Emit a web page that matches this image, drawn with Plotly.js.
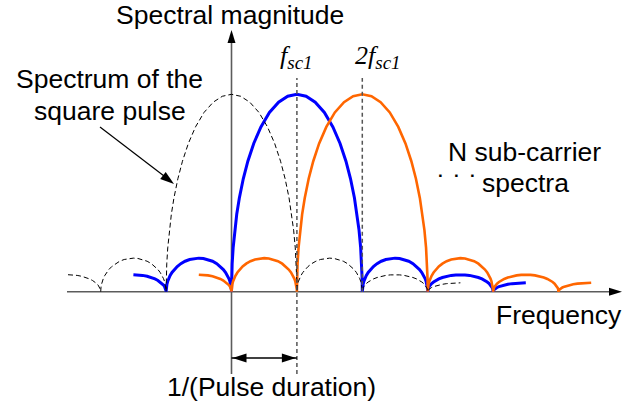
<!DOCTYPE html>
<html>
<head>
<meta charset="utf-8">
<script src="https://cdn.plot.ly/plotly-3.0.1.min.js"></script>
<style>html,body{margin:0;padding:0;background:#fff;}#chart{width:644px;height:408px;}</style>
</head>
<body>
<div id="chart"></div>
<script>
// ---- data (frequency in units of 1/(pulse duration), magnitude relative to main-lobe peak) ----
const carrierNames   = ['Square pulse', 'Sub-carrier 1', 'Sub-carrier 2'];
const carrierCenters = [0, 1, 2];                 // 0, f_sc1, 2 f_sc1
const lobeEdges      = [-3, -2, -1, 1, 2, 3, 4];  // lobe boundaries (zeros) relative to centre
const lobePeaks      = [0.086, 0.17, 1.0, 0.17, 0.086, 0.045]; // peak of each lobe
const drawFrom       = -2.5;                      // visible extent relative to centre
const drawTo         = 3.5;
// lobe outline: offset from lobe centre (-1 edge .. 0 peak) and relative height
const profileT = [-1, -0.998, -0.99, -0.975, -0.95, -0.92, -0.88, -0.82, -0.75, -0.66, -0.55, -0.42, -0.28, -0.14, 0];
const profileY = [0, 0.063, 0.141, 0.222, 0.312, 0.392, 0.475, 0.572, 0.661, 0.751, 0.835, 0.908, 0.960, 0.990, 1];
const tickLabels = ['<i>f</i><sub><span style="font-size:19px"><i>sc1</i></span></sub>',
                    '<i>2f</i><sub><span style="font-size:19px"><i>sc1</i></span></sub>'];

// ---- build spectra ----
const fullT = profileT.concat(profileT.slice(0, -1).reverse().map(t => -t));
const fullY = profileY.concat(profileY.slice(0, -1).reverse());
function spectrum(c) {
  const xs = [], ys = [];
  for (let i = 0; i < lobePeaks.length; i++) {
    const a = lobeEdges[i], b = lobeEdges[i + 1];
    const mid = (a + b) / 2, half = (b - a) / 2;
    for (let k = 0; k < fullT.length; k++) {
      const rel = mid + fullT[k] * half;
      if (rel < drawFrom - 1e-9 || rel > drawTo + 1e-9) continue;
      xs.push(c + rel); ys.push(lobePeaks[i] * fullY[k]);
    }
  }
  return {x: xs, y: ys};
}
const styles = [
  {color: '#000000', width: 1, dash: '5px,3px'},
  {color: '#0000ff', width: 3, dash: 'solid'},
  {color: '#ff6600', width: 2.6, dash: 'solid'}
];
const order = [1, 2, 0];
const traces = order.map(i => {
  const s = spectrum(carrierCenters[i]);
  return {type: 'scatter', mode: 'lines', name: carrierNames[i], x: s.x, y: s.y,
          line: {color: styles[i].color, width: styles[i].width, dash: styles[i].dash, shape: 'linear'},
          hoverinfo: 'skip'};
});

// ---- geometry helpers (pixel -> paper / data) ----
const W = 644, H = 408;
const px = v => v / W, py = v => 1 - v / H;
const X0 = 231.5, XS = 65.4, Y0 = 291.7, YS = 197.4;
const dx = p => (p - X0) / XS, dy = p => (Y0 - p) / YS;

const axisCol = '#5c5c5c';
const shapes = [
  // x axis
  {type: 'line', layer: 'below', x0: dx(67), x1: dx(612), y0: 0, y1: 0, line: {color: axisCol, width: 1.6}},
  {type: 'path', xsizemode: 'pixel', ysizemode: 'pixel', xanchor: dx(622), yanchor: 0,
   path: 'M0,0 L-13,4 L-13,-4 Z', fillcolor: '#000', line: {width: 0}},
  // y axis
  {type: 'line', layer: 'below', x0: 0, x1: 0, y0: dy(374), y1: dy(40), line: {color: axisCol, width: 1.6}},
  {type: 'path', xsizemode: 'pixel', ysizemode: 'pixel', xanchor: 0, yanchor: dy(30),
   path: 'M0,0 L-4,-13 L4,-13 Z', fillcolor: '#000', line: {width: 0}},
  // dashed markers at f_sc1 and 2f_sc1
  {type: 'line', x0: carrierCenters[1], x1: carrierCenters[1], y0: dy(374), y1: dy(78), line: {color: '#555', width: 1.5, dash: '4px,3px'}},
  {type: 'line', x0: carrierCenters[2], x1: carrierCenters[2], y0: 0, y1: dy(78), line: {color: '#555', width: 1.5, dash: '4px,3px'}},
  // double arrow 1/(pulse duration)
  {type: 'line', x0: 0, x1: carrierCenters[1], y0: dy(358), y1: dy(358), line: {color: '#000', width: 1.5}},
  {type: 'path', xsizemode: 'pixel', ysizemode: 'pixel', xanchor: 0, yanchor: dy(358),
   path: 'M1,0 L15,4.5 L15,-4.5 Z', fillcolor: '#000', line: {width: 0}},
  {type: 'path', xsizemode: 'pixel', ysizemode: 'pixel', xanchor: carrierCenters[1], yanchor: dy(358),
   path: 'M-1,0 L-15,4.5 L-15,-4.5 Z', fillcolor: '#000', line: {width: 0}},
  // pointer arrow to square-pulse spectrum
  {type: 'line', x0: dx(100), y0: dy(127), x1: dx(166), y1: dy(177.5), line: {color: '#000', width: 1.2}},
  {type: 'path', xsizemode: 'pixel', ysizemode: 'pixel', xanchor: dx(174), yanchor: dy(184),
   path: 'M0,0 L-8.3,12.1 L-13.8,5.0 Z', fillcolor: '#000', line: {width: 0}}
];

const sans = 'Arial, "Liberation Sans", sans-serif';
const serif = '"Liberation Serif", "Times New Roman", serif';
const FS = 26.5;
const txt = (text, x, y, size, family) => ({text, xref: 'paper', yref: 'paper', x: px(x), y: py(y),
  xanchor: 'center', yanchor: 'middle', showarrow: false, borderpad: 0,
  font: {family: family || sans, size: size || FS, color: '#000'}});
const annotations = [
  txt('Spectral magnitude', 229.5, 14.7),
  txt('Spectrum of the', 109.5, 78.7),
  txt('square pulse', 109.5, 110.9),
  txt('N sub-carrier', 524.5, 152),
  txt('spectra', 525.5, 183.5),
  txt('<b>·</b>', 441, 175, 17),
  txt('<b>·</b>', 457, 175, 17),
  txt('<b>·</b>', 473, 175, 17),
  txt('Frequency', 558.5, 315),
  txt('1/(Pulse duration)', 271, 387.3),
  txt(tickLabels[0], 296, 57, 26, serif),
  txt(tickLabels[1], 378, 57, 26, serif)
];

const layout = {
  width: W, height: H, margin: {l: 0, r: 0, t: 0, b: 0, pad: 0},
  paper_bgcolor: '#fff', plot_bgcolor: '#fff', showlegend: false,
  xaxis: {range: [dx(0), dx(W)], visible: false, fixedrange: true},
  yaxis: {range: [dy(H), dy(0)], visible: false, fixedrange: true},
  shapes, annotations
};
Plotly.newPlot('chart', traces, layout, {staticPlot: true, displayModeBar: false});
</script>
</body>
</html>
